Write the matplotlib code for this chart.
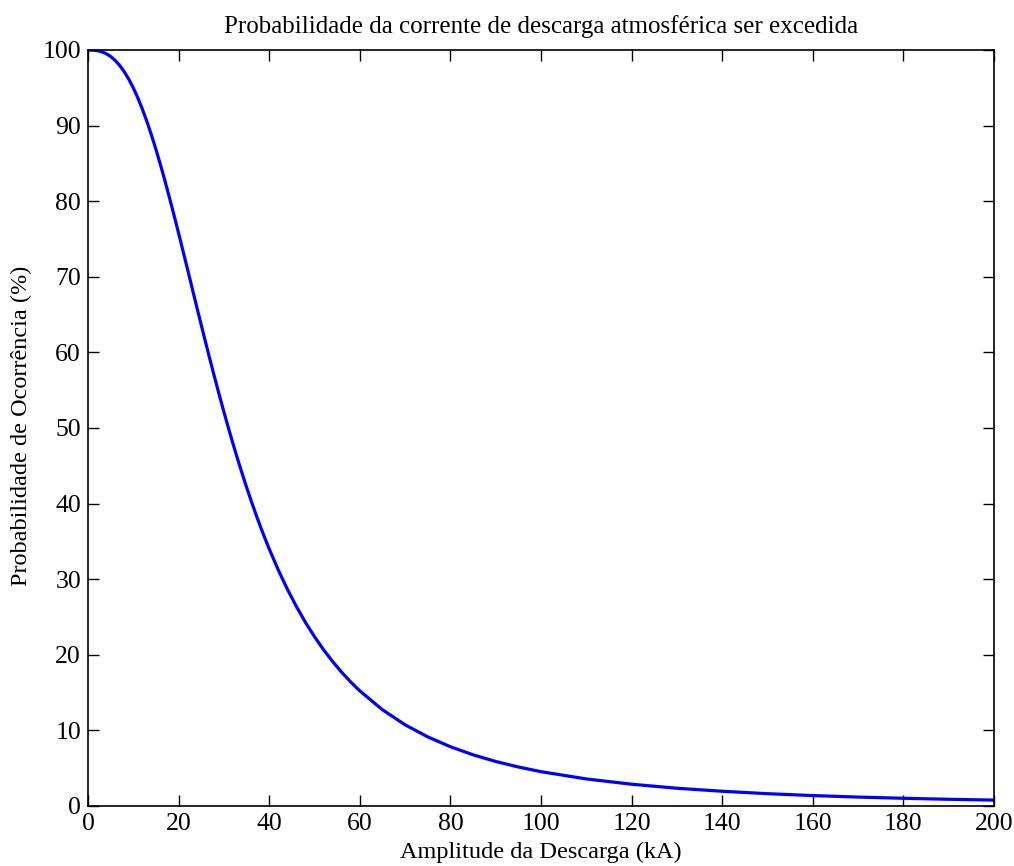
import matplotlib
matplotlib.use("Agg")
import matplotlib.pyplot as plt

amplitude_kA = [0, 1, 2, 3, 4, 5, 6, 7, 8, 9, 10, 11, 12, 13, 14, 15, 16,
                17, 18, 19, 20, 21, 22, 23, 24, 25, 26, 27, 28, 29, 30, 31,
                32, 33, 34, 35, 36, 37, 38, 39, 40, 42, 44, 46, 48, 50, 52,
                54, 56, 58, 60, 65, 70, 75, 80, 85, 90, 95, 100, 110, 120,
                130, 140, 150, 160, 170, 180, 190, 200]
probability_pct = [100.0, 99.99, 99.92, 99.77, 99.52, 99.14, 98.62, 97.95,
                   97.13, 96.14, 94.99, 93.67, 92.18, 90.55, 88.76, 86.85,
                   84.81, 82.67, 80.42, 78.13, 75.76, 73.35, 70.93, 68.48,
                   66.04, 63.63, 61.24, 58.89, 56.58, 54.32, 52.13, 50.00,
                   47.94, 45.94, 44.03, 42.18, 40.40, 38.70, 37.06, 35.50,
                   34.01, 31.23, 28.69, 26.39, 24.29, 22.40, 20.67, 19.11,
                   17.69, 16.40, 15.23, 12.73, 10.74, 9.14, 7.84, 6.77,
                   5.89, 5.16, 4.54, 3.58, 2.88, 2.35, 1.95, 1.63, 1.38,
                   1.18, 1.02, 0.89, 0.78]
x_ticks = list(range(0, 201, 20))
y_ticks = list(range(0, 101, 10))

plt.rcParams['font.family'] = ['Liberation Serif', 'DejaVu Serif']

fig = plt.figure(figsize=(10.14, 8.66), dpi=100)
ax = fig.add_axes([88/1014, 60/866, (994-88)/1014, (806-50)/866])
ax.plot(amplitude_kA, probability_pct, color=(0, 0, 1), linewidth=2.3,
        solid_joinstyle='round', clip_on=True)
ax.set_xlim(0, 200)
ax.set_ylim(0, 100)
ax.set_xticks(x_ticks)
ax.set_yticks(y_ticks)
ax.tick_params(direction='in', length=8, width=1, top=True, right=True,
               labelsize=18.5, pad=5)
for s in ax.spines.values():
    s.set_linewidth(1.2)
ax.set_title('Probabilidade da corrente de descarga atmosférica ser excedida',
             fontsize=18, pad=12)
ax.set_xlabel('Amplitude da Descarga (kA)', fontsize=17.5, labelpad=5)
ax.set_ylabel('Probabilidade de Ocorrência (%)', fontsize=17.5)
ax.yaxis.set_label_coords(-0.062, 0.503)
fig.savefig('out.png', dpi=100)
